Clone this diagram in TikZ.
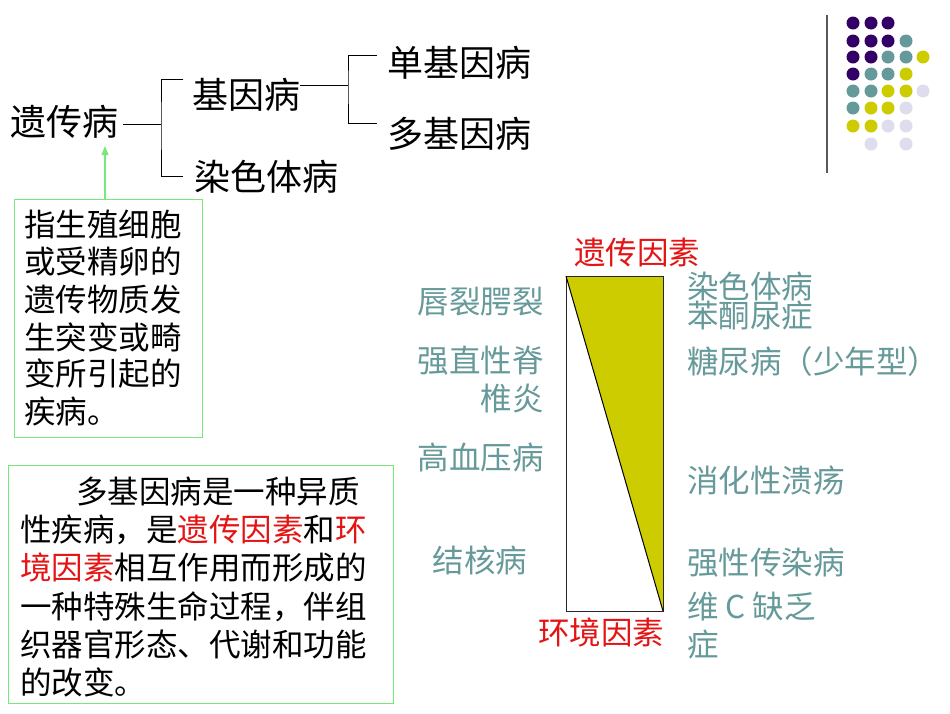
\documentclass[tikz,border=0pt]{standalone}
\usepackage{fontspec}
\setmainfont{Noto Sans CJK SC}
\usetikzlibrary{arrows.meta}
\definecolor{tealg}{RGB}{102,153,153}
\definecolor{purp}{RGB}{51,0,102}
\definecolor{oliv}{RGB}{204,204,0}
\definecolor{lav}{RGB}{221,221,238}
\definecolor{redt}{RGB}{228,20,20}
\definecolor{greenb}{RGB}{120,232,120}
\tikzset{
  big/.style={font=\fontsize{36}{40}\selectfont, inner sep=0pt},
  mid/.style={font=\fontsize{31.5}{36}\selectfont, inner sep=0pt},
  graylbl/.style={mid, text=tealg},
  redlbl/.style={mid, text=redt},
  tree/.style={line width=0.9pt, black},
  gbox/.style={draw=greenb, line width=1.3pt},
  garrow/.style={draw=greenb, line width=1.3pt, -{Triangle[width=7pt,length=9pt]}},
  dotp/.style={fill=purp},
  dott/.style={fill=tealg},
  doty/.style={fill=oliv},
  dotl/.style={fill=lav}
}
\begin{document}
\begin{tikzpicture}[x=1pt,y=-1pt]
\useasboundingbox (0,0) rectangle (950,713);
% ---------- tree ----------
\node[big] (ycb) at (64.5,122) {遗传病};
\node[big] (jyb) at (246,95) {基因病};
\node[big] (rst) at (266,177) {染色体病};
\node[big] (djy) at (459,63) {单基因病};
\node[big] (dj2) at (459,134) {多基因病};
\coordinate (a1) at (123,124);
\coordinate (a2) at (161,124);
\coordinate (t1) at (183,79);
\coordinate (b1) at (183,176);
\draw[tree] (a1) -- (a2);
\draw[tree] (t1) -| (a2) |- (b1);
\coordinate (c1) at (300,85);
\coordinate (c2) at (348,85);
\coordinate (t2) at (377,55);
\coordinate (b2) at (377,123);
\draw[tree] (c1) -- (c2);
\draw[tree] (t2) -| (c2) |- (b2);
% ---------- box 1 ----------
\node[gbox, anchor=north west, minimum width=188pt, minimum height=238pt, inner sep=0pt] (box1) at (14,199) {};
\coordinate (tip) at (105,146);
\draw[garrow] (box1.north -| tip) -- (tip);
\node[mid, anchor=west] (l1) at (24,225) {指生殖细胞};
\node[mid, anchor=west] (l2) at (24,262) {或受精卵的};
\node[mid, anchor=west] (l3) at (24,300) {遗传物质发};
\node[mid, anchor=west] (l4) at (24,337) {生突变或畸};
\node[mid, anchor=west] (l5) at (24,374) {变所引起的};
\node[mid, anchor=west] (l6) at (24,411) {疾病。};
% ---------- box 2 ----------
\node[gbox, anchor=north west, minimum width=385pt, minimum height=238pt, inner sep=0pt] (box2) at (8,465) {};
\node[mid, anchor=west] (m1) at (76,492) {多基因病是一种异质};
\node[mid, anchor=west] (m2) at (20,530) {性疾病，是\textcolor{redt}{遗传因素}和\textcolor{redt}{环}};
\node[mid, anchor=west] (m3) at (20,568) {\textcolor{redt}{境因素}相互作用而形成的};
\node[mid, anchor=west] (m4) at (20,607) {一种特殊生命过程，伴组};
\node[mid, anchor=west] (m5) at (20,645) {织器官形态、代谢和功能};
\node[mid, anchor=west] (m6) at (20,682) {的改变。};
% ---------- triangle chart ----------
\fill[oliv] (566,276) -- (663,276) -- (663,611) -- cycle;
\draw[line width=1pt, black!85] (566,276) rectangle (663,611);
\draw[line width=1pt, black] (566,276) -- (663,611);
\node[redlbl] (gen) at (637,253) {遗传因素};
\node[redlbl] (env) at (601,632) {环境因素};
\node[graylbl, anchor=east] (g1) at (544,302) {唇裂腭裂};
\node[graylbl, anchor=east] (g2) at (544,361) {强直性脊};
\node[graylbl, anchor=east] (g3) at (544,399) {椎炎};
\node[graylbl, anchor=east] (g4) at (544,457) {高血压病};
\node[graylbl] (g5) at (480,560) {结核病};
\node[graylbl, anchor=west] (r1) at (687,286) {染色体病};
\node[graylbl, anchor=west] (r2) at (687,316) {苯酮尿症};
\node[graylbl, anchor=west] (r3) at (687,362) {糖尿病（少年型）};
\node[graylbl, anchor=west] (r4) at (687,480) {消化性溃疡};
\node[graylbl, anchor=west] (r5) at (687,563) {强性传染病};
\node[graylbl, anchor=west] (r6) at (687,607) {维 C 缺乏};
\node[graylbl, anchor=west] (r7) at (687,645) {症};
% ---------- decoration ----------
\draw[line width=1.2pt, black!65] (827,15) -- (827,173);
\foreach \x/\y/\s in {853/23/dotp,871/23/dotp,888/23/dotp,
  853/41/dotp,871/41/dotp,888/41/dotp,906/41/dott,
  853/57/dotp,871/57/dotp,888/57/dott,906/57/dott,923/57/doty,
  853/74/dotp,871/74/dott,888/74/dott,906/74/doty,
  853/91/dott,871/91/dott,888/91/doty,906/91/doty,923/91/dotl,
  853/108/dott,871/108/doty,888/108/doty,906/108/dotl,
  853/126/doty,871/126/doty,888/126/dotl,906/126/dotl,
  871/144/dotl,906/144/dotl}
  \fill[\s] (\x,\y) circle[radius=6.5pt];
\end{tikzpicture}
\end{document}
